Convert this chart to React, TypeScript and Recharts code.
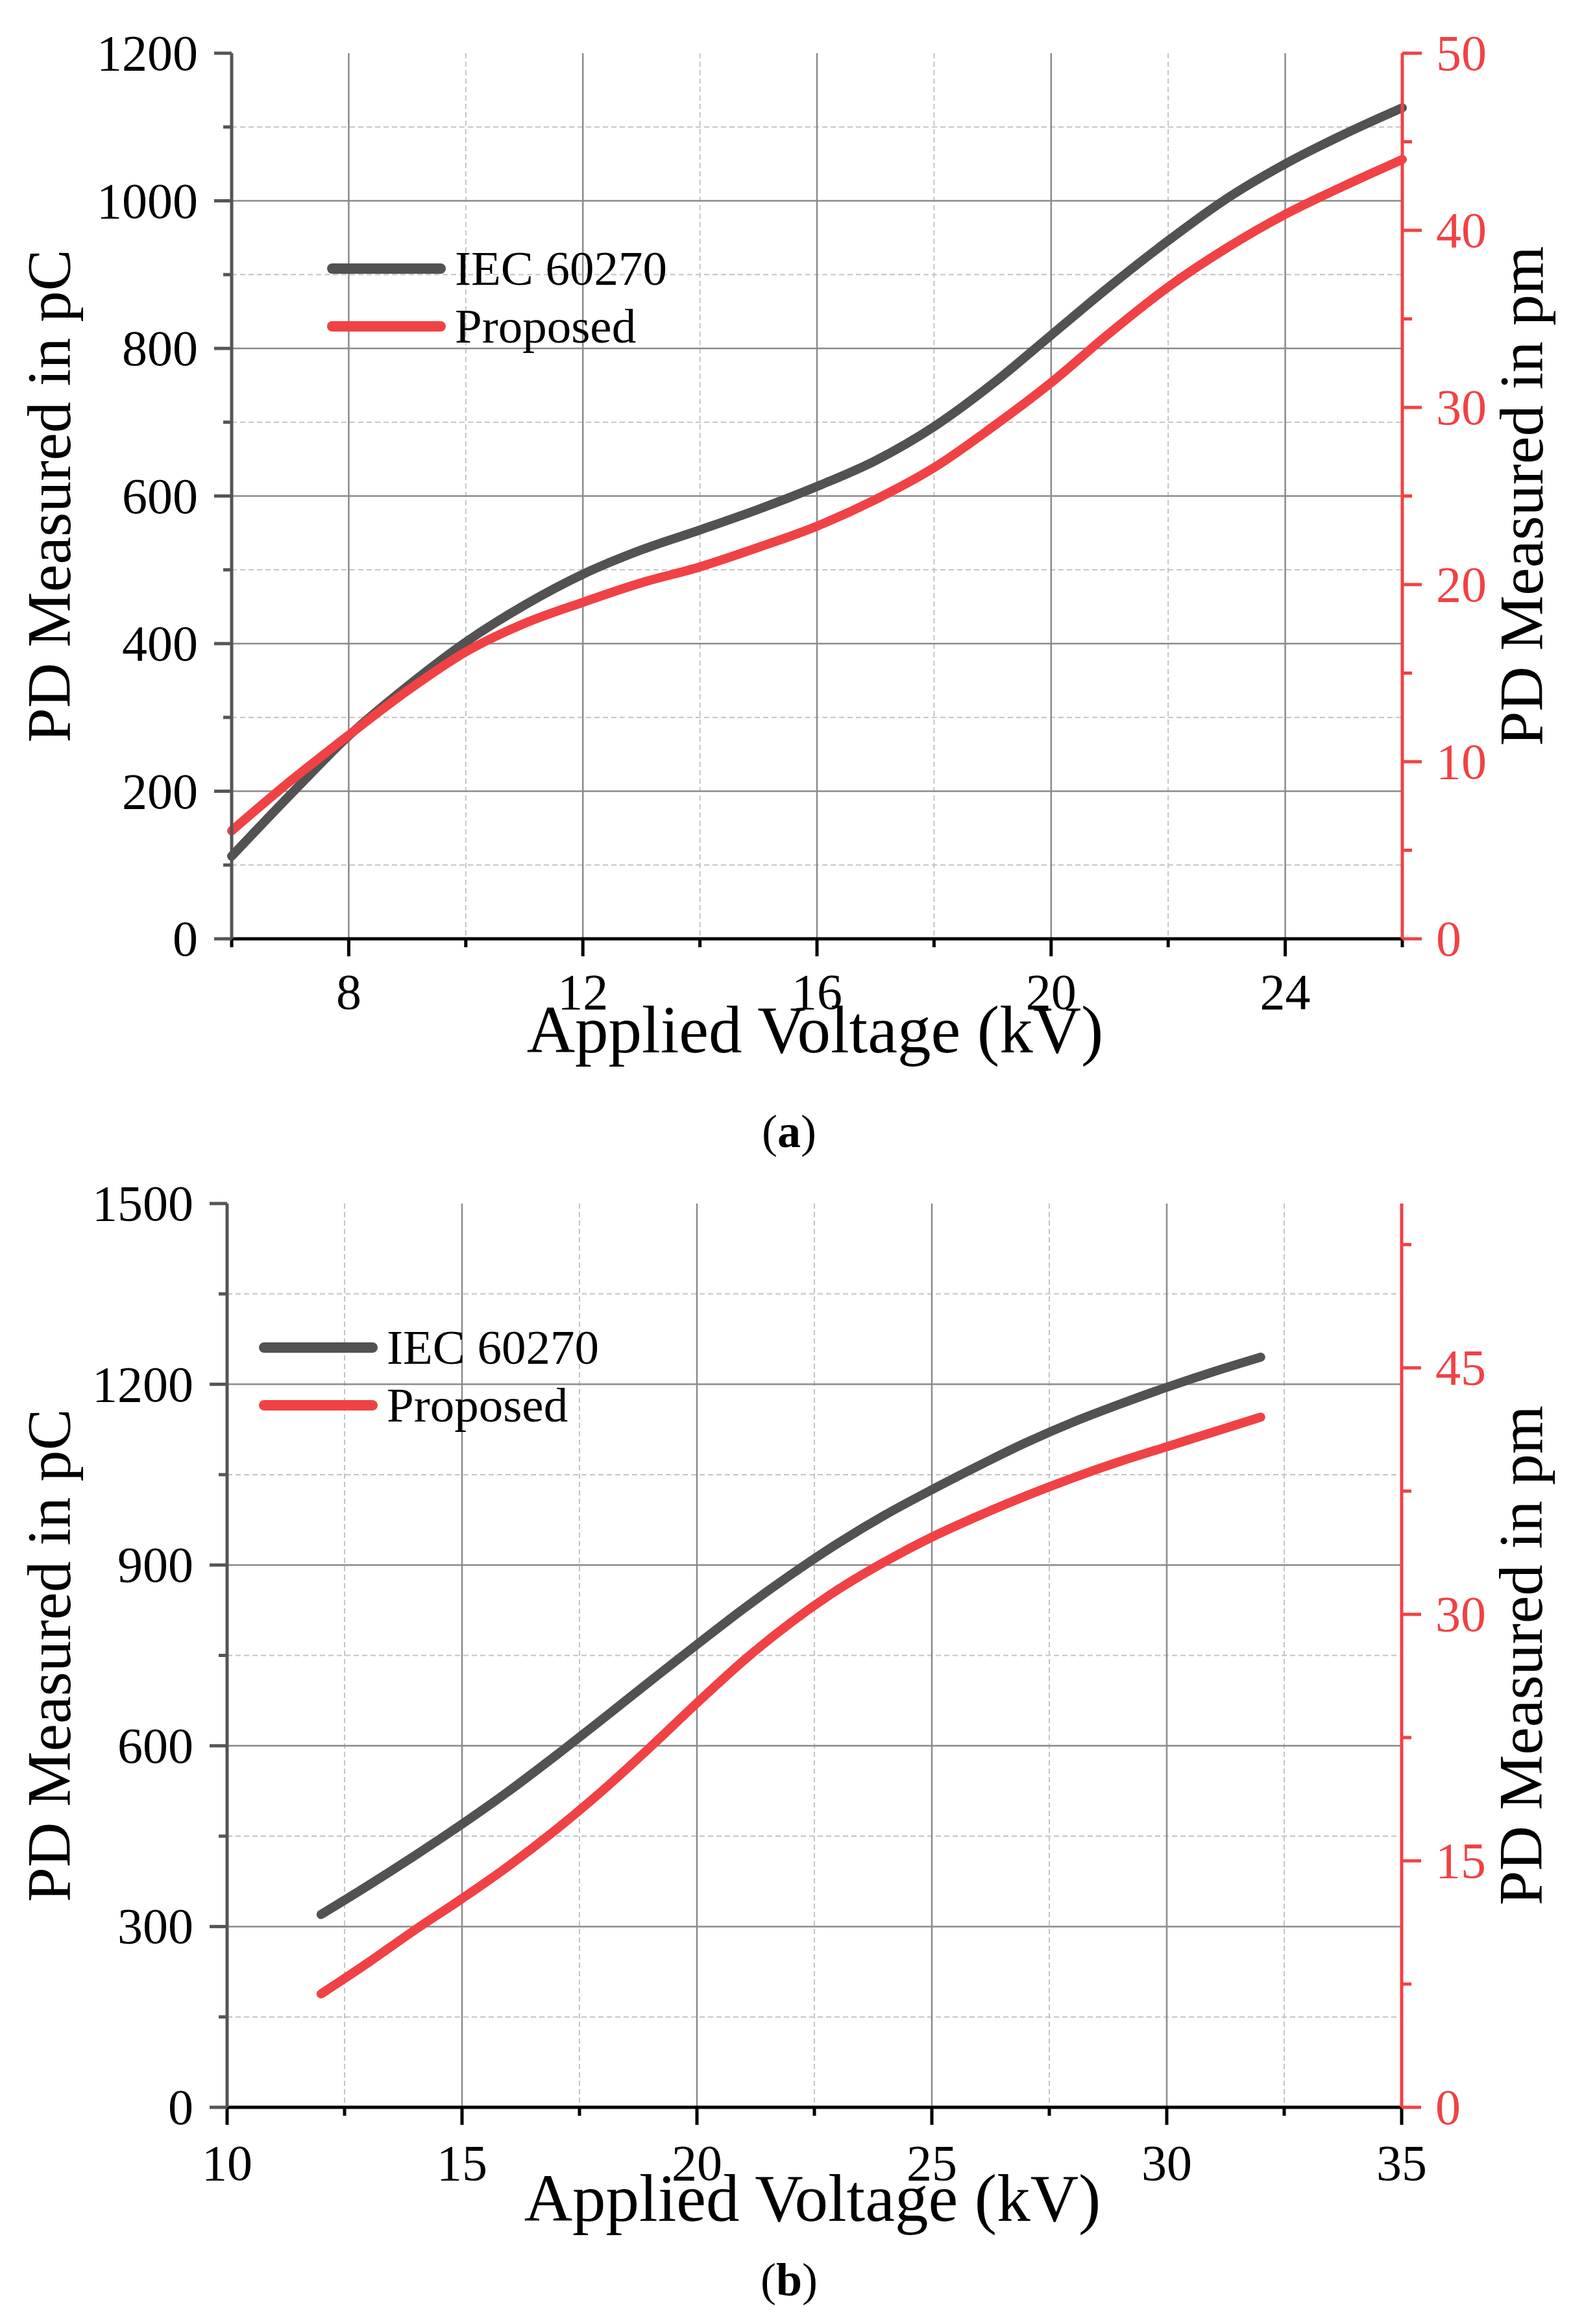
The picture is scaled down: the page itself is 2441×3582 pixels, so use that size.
import React from 'react';
import { LineChart, Line, XAxis, YAxis, CartesianGrid, Legend, Label } from 'recharts';

const FONT = '"Liberation Serif", "Times New Roman", Times, serif';
const GRAY = '#525252';
const RED = '#F04245';
const AXIS_GRAY = '#555555';

// panel (a)
const voltageA = [6, 7, 8, 9, 10, 11, 12, 13, 14, 15, 16, 17, 18, 19, 20, 21, 22, 23, 24, 25, 26];
const iecA = [112, 195, 275, 342, 402, 452, 494, 527, 554, 582, 613, 648, 694, 752, 818, 884, 946, 1003, 1050, 1090, 1126];
const proposedA = [6.1, 8.9, 11.5, 14.0, 16.2, 17.8, 19.0, 20.1, 21.0, 22.1, 23.3, 24.8, 26.6, 28.9, 31.4, 34.2, 36.8, 39.0, 40.9, 42.5, 44.0];
const xMajorA = [8, 12, 16, 20, 24];
const xMinorA = [6, 10, 14, 18, 22, 26];
const pcMajorA = [0, 200, 400, 600, 800, 1000, 1200];
const pcMinorA = [100, 300, 500, 700, 900, 1100];
const pmMajorA = [0, 10, 20, 30, 40, 50];
const pmMinorA = [5, 15, 25, 35, 45];

// panel (b)
const voltageB = [12, 13, 14, 15, 16, 17, 18, 19, 20, 21, 22, 23, 24, 25, 26, 27, 28, 29, 30, 31, 32];
const iecB = [320, 368, 418, 470, 525, 584, 645, 707, 768, 828, 884, 936, 983, 1025, 1065, 1103, 1137, 1167, 1195, 1221, 1245];
const proposedB = [6.9, 8.8, 10.8, 12.7, 14.7, 16.9, 19.3, 21.9, 24.6, 27.2, 29.5, 31.5, 33.2, 34.7, 36.0, 37.2, 38.3, 39.3, 40.2, 41.1, 42.0];
const xMajorB = [10, 15, 20, 25, 30, 35];
const xMinorB = [12.5, 17.5, 22.5, 27.5, 32.5];
const pcMajorB = [0, 300, 600, 900, 1200, 1500];
const pcMinorB = [150, 450, 750, 1050, 1350];
const pmMajorB = [0, 15, 30, 45];
const pmMinorB = [7.5, 22.5, 37.5, 52.5];

const sorted = (a: number[], b: number[]) => [...a, ...b].sort((p, q) => p - q);

type Side = 'left' | 'right' | 'bottom' | 'top';

const makeTick = (
  side: Side,
  major: number[],
  lineColor: string,
  textColor: string,
  majorLen: number,
  minorLen: number,
  labelGap: number,
) =>
  function Tick(props: any) {
    const { x, y, payload } = props;
    const v = payload.value;
    const isMajor = major.includes(v);
    const len = isMajor ? majorLen : minorLen;
    const common = { stroke: lineColor, strokeWidth: 5 };
    const txt = { fontFamily: FONT, fontSize: 78, fill: textColor };
    if (side === 'left') {
      return (
        <g>
          <line x1={x} x2={x - len} y1={y} y2={y} {...common} />
          {isMajor && (
            <text x={x - labelGap} y={y} dy={26} textAnchor="end" {...txt}>
              {v}
            </text>
          )}
        </g>
      );
    }
    if (side === 'right') {
      return (
        <g>
          <line x1={x} x2={x + len} y1={y} y2={y} {...common} />
          {isMajor && (
            <text x={x + labelGap} y={y} dy={26} textAnchor="start" {...txt}>
              {v}
            </text>
          )}
        </g>
      );
    }
    if (side === 'top') {
      return <line x1={x} x2={x} y1={y} y2={y + len} {...common} />;
    }
    return (
      <g>
        <line x1={x} x2={x} y1={y} y2={y + len} {...common} />
        {isMajor && (
          <text x={x} y={y + labelGap} textAnchor="middle" {...txt}>
            {v}
          </text>
        )}
      </g>
    );
  };

const legendContent = (props: any) => (
  <svg width={640} height={190} style={{ display: 'block', overflow: 'visible' }}>
    {(props.payload || []).map((p: any, i: number) => (
      <g key={p.value}>
        <line x1={16} x2={183} y1={50 + i * 89} y2={50 + i * 89} stroke={p.color} strokeWidth={16} strokeLinecap="round" />
        <text x={205} y={50 + i * 89} dy={25} fontFamily={FONT} fontSize={75} fill="#000">
          {p.value}
        </text>
      </g>
    ))}
  </svg>
);

interface PanelProps {
  top: number;
  height: number;
  marginTop: number;
  leftWidth: number;
  rightWidth: number;
  xHeight: number;
  voltage: number[];
  iec: number[];
  proposed: number[];
  xMajor: number[];
  xMinor: number[];
  pcMajor: number[];
  pcMinor: number[];
  pmMajor: number[];
  pmMinor: number[];
  xLabelGap: number;
  topTicks: boolean;
  legendPos: { left: number; top: number };
  caption: string;
  captionOffset: number;
}

function Panel(p: PanelProps) {
  const data = p.voltage.map((v, i) => ({ v, iec: p.iec[i], proposed: p.proposed[i] }));
  const allX = p.xMajor.concat(p.xMinor);
  const xDomain = [Math.min(...allX), Math.max(...allX)];
  const pcMax = p.pcMajor[p.pcMajor.length - 1];
  const pmMax = p.pmMajor.length === 6 ? p.pmMajor[5] : 55;
  const xTicks = sorted(p.xMajor, p.xMinor);

  return (
    <div style={{ position: 'absolute', left: 0, top: p.top }}>
      <LineChart
        width={2441}
        height={p.height}
        data={data}
        margin={{ top: p.marginTop, right: 0, left: 0, bottom: 0 }}
      >
        <CartesianGrid
          yAxisId="left"
          horizontalValues={p.pcMinor}
          verticalValues={p.xMinor.filter((v) => v > xDomain[0] && v < xDomain[1])}
          stroke="#c4c4c4"
          strokeWidth={2}
          strokeDasharray="8 5"
          fill="none"
        />
        <CartesianGrid
          yAxisId="left"
          horizontalValues={p.pcMajor.filter((v) => v > 0 && v < pcMax)}
          verticalValues={p.xMajor.filter((v) => v > xDomain[0] && v < xDomain[1])}
          stroke="#8a8a8a"
          strokeWidth={2.5}
          fill="none"
        />
        <XAxis
          dataKey="v"
          type="number"
          domain={xDomain}
          ticks={xTicks}
          interval={0}
          tickSize={0}
          tickMargin={0}
          height={p.xHeight}
          axisLine={{ stroke: '#000', strokeWidth: 5 }}
          tickLine={false}
          tick={makeTick('bottom', p.xMajor, '#000', '#000', 27, 13, p.xLabelGap)}
        >
          <Label
            content={(props: any) => {
              const vb = props.viewBox;
              return (
                <g>
                  <text
                    x={vb.x + vb.width / 2 - 3}
                    y={vb.y + 175}
                    textAnchor="middle"
                    fontFamily={FONT}
                    fontSize={103}
                    fill="#000"
                  >
                    Applied Voltage (kV)
                  </text>
                  <text
                    x={1216}
                    y={vb.y + p.captionOffset}
                    textAnchor="middle"
                    fontFamily={FONT}
                    fontSize={72}
                    fill="#000"
                  >
                    (<tspan fontWeight="bold">{p.caption}</tspan>)
                  </text>
                </g>
              );
            }}
          />
        </XAxis>
        <XAxis
          xAxisId="top"
          orientation="top"
          type="number"
          domain={xDomain}
          ticks={xTicks}
          interval={0}
          height={0}
          tickSize={0}
          tickMargin={0}
          axisLine={{ stroke: '#000', strokeWidth: 5 }}
          tickLine={false}
          tick={p.topTicks ? makeTick('top', p.xMajor, '#000', '#000', 27, 13, 0) : false}
        />
        <YAxis
          yAxisId="left"
          type="number"
          domain={[0, pcMax]}
          ticks={sorted(p.pcMajor, p.pcMinor)}
          interval={0}
          width={p.leftWidth}
          tickSize={0}
          tickMargin={0}
          axisLine={{ stroke: AXIS_GRAY, strokeWidth: 5 }}
          tickLine={false}
          tick={makeTick('left', p.pcMajor, AXIS_GRAY, '#000', 27, 13, 52)}
        >
          <Label
            content={(props: any) => {
              const vb = props.viewBox;
              const cy = vb.y + vb.height / 2;
              return (
                <text
                  x={vb.x + 108}
                  y={cy}
                  transform={`rotate(-90 ${vb.x + 108} ${cy})`}
                  textAnchor="middle"
                  fontFamily={FONT}
                  fontSize={96}
                  fill="#000"
                >
                  PD Measured in pC
                </text>
              );
            }}
          />
        </YAxis>
        <YAxis
          yAxisId="right"
          orientation="right"
          type="number"
          domain={[0, pmMax]}
          ticks={sorted(p.pmMajor, p.pmMinor)}
          interval={0}
          width={p.rightWidth}
          tickSize={0}
          tickMargin={0}
          axisLine={{ stroke: RED, strokeWidth: 5 }}
          tickLine={false}
          tick={makeTick('right', p.pmMajor, RED, RED, 30, 15, 52)}
        >
          <Label
            content={(props: any) => {
              const vb = props.viewBox;
              const cy = vb.y + vb.height / 2;
              const bx = vb.x + 216;
              return (
                <text
                  x={bx}
                  y={cy}
                  transform={`rotate(-90 ${bx} ${cy})`}
                  textAnchor="middle"
                  fontFamily={FONT}
                  fontSize={96}
                  fill="#000"
                >
                  PD Measured in pm
                </text>
              );
            }}
          />
        </YAxis>
        <Legend
          layout="horizontal"
          verticalAlign="middle"
          align="center"
          wrapperStyle={{ left: p.legendPos.left, top: p.legendPos.top, width: 'auto' }}
          content={legendContent}
        />
        <Line
          yAxisId="left"
          name="IEC 60270"
          dataKey="iec"
          type="monotone"
          stroke={GRAY}
          strokeWidth={14}
          strokeLinecap="round"
          dot={false}
          isAnimationActive={false}
        />
        <Line
          yAxisId="right"
          name="Proposed"
          dataKey="proposed"
          type="monotone"
          stroke={RED}
          strokeWidth={14}
          strokeLinecap="round"
          dot={false}
          isAnimationActive={false}
        />
      </LineChart>
    </div>
  );
}

export default function App() {
  return (
    <div
      style={{
        position: 'absolute',
        left: 0,
        top: 0,
        width: 2441,
        height: 3582,
        background: '#fff',
        overflow: 'hidden',
      }}
    >
      <Panel
        top={0}
        height={1800}
        marginTop={82}
        leftWidth={357}
        rightWidth={280}
        xHeight={353}
        voltage={voltageA}
        iec={iecA}
        proposed={proposedA}
        xMajor={xMajorA}
        xMinor={xMinorA}
        pcMajor={pcMajorA}
        pcMinor={pcMinorA}
        pmMajor={pmMajorA}
        pmMinor={pmMinorA}
        xLabelGap={108}
        topTicks={false}
        legendPos={{ left: 496, top: 364 }}
        caption="a"
        captionOffset={321}
      />
      <Panel
        top={1780}
        height={1802}
        marginTop={75}
        leftWidth={350}
        rightWidth={281}
        xHeight={334}
        voltage={voltageB}
        iec={iecB}
        proposed={proposedB}
        xMajor={xMajorB}
        xMinor={xMinorB}
        pcMajor={pcMajorB}
        pcMinor={pcMinorB}
        pmMajor={pmMajorB}
        pmMinor={pmMinorB}
        xLabelGap={112}
        topTicks={true}
        legendPos={{ left: 391, top: 247 }}
        caption="b"
        captionOffset={290}
      />
    </div>
  );
}
